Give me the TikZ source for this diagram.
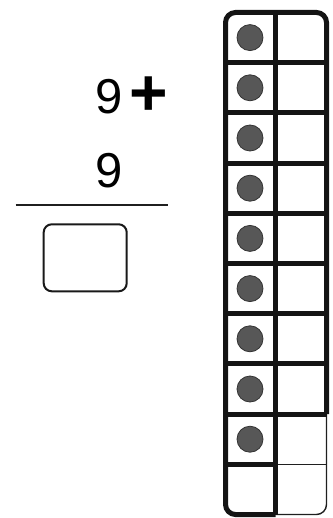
\documentclass[tikz,border=0pt]{standalone}
\usepackage{fontspec}
\setmainfont{Liberation Sans}
\begin{document}
\begin{tikzpicture}[x=1pt,y=-1pt,
  thickline/.style={line width=5pt,draw=black!92},
  thinline/.style={line width=1.4pt,draw=black!88},
  counter/.style={circle,fill=black!66,draw=black!80,line width=0.8pt,minimum size=26pt,inner sep=0pt},
  digit/.style={font=\fontsize{49}{49}\selectfont,inner sep=0pt,anchor=base},
  plussign/.style={font=\bfseries\fontsize{66}{66}\selectfont,inner sep=0pt},
  answerbox/.style={draw=black!90,line width=2pt,rounded corners=8pt,minimum width=83pt,minimum height=67pt,inner sep=0pt}]
\useasboundingbox (0,0) rectangle (332,518);
% left side: the sum
\node[digit] (a) at (109,114) {9};
\node[plussign] (plus) at (148.5,96.5) {+};
\node[digit] (b) at (109,188) {9};
\coordinate (ruleL) at (15.5,205);
\coordinate (ruleR) at (167.5,205);
\draw[line width=2.4pt,draw=black!88] (ruleL) -- (ruleR);
\node[answerbox] (ans) at (85.2,257.8) {};
% frame coordinates
\def\xl{225.5}\def\xm{275.5}\def\xr{326.5}
\def\yt{12.5}\def\dy{50.2}
\pgfmathsetmacro{\yb}{\yt+10*\dy}
\pgfmathsetmacro{\yeight}{\yt+8*\dy}
\pgfmathsetmacro{\ynine}{\yt+9*\dy}
\coordinate (TL) at (\xl,\yt);
\coordinate (TR) at (\xr,\yt);
\coordinate (BL) at (\xl,\yb);
\coordinate (BM) at (\xm,\yb);
\coordinate (BR) at (\xr,\yb);
\coordinate (TM) at (\xm,\yt);
\coordinate (R8) at (\xr,\yeight);
\coordinate (M9) at (\xm,\ynine);
\coordinate (R9) at (\xr,\ynine);
% thin part of the right column
\draw[thinline,rounded corners=10pt] (R8) -- (BR) -- (BM);
\draw[thinline] (M9) -- (R9);
% thick rows
\foreach \k in {1,...,8}{
  \pgfmathsetmacro{\yy}{\yt+\k*\dy}
  \coordinate (rl\k) at (\xl,\yy);
  \coordinate (rr\k) at (\xr,\yy);
  \draw[thickline] (rl\k) -- (rr\k);
}
\coordinate (rl9) at (\xl,\ynine);
\draw[thickline] (rl9) -- (M9);
\draw[thickline] (TM) -- (BM);
\draw[thickline,rounded corners=10pt] (BM) -- (BL) -- (TL) -- (TR) -- (R8);
% counters
\foreach \k in {0,...,8}{
  \pgfmathsetmacro{\yy}{\yt+(\k+0.5)*\dy}
  \node[counter] (c\k) at (250,\yy) {};
}
\end{tikzpicture}
\end{document}
